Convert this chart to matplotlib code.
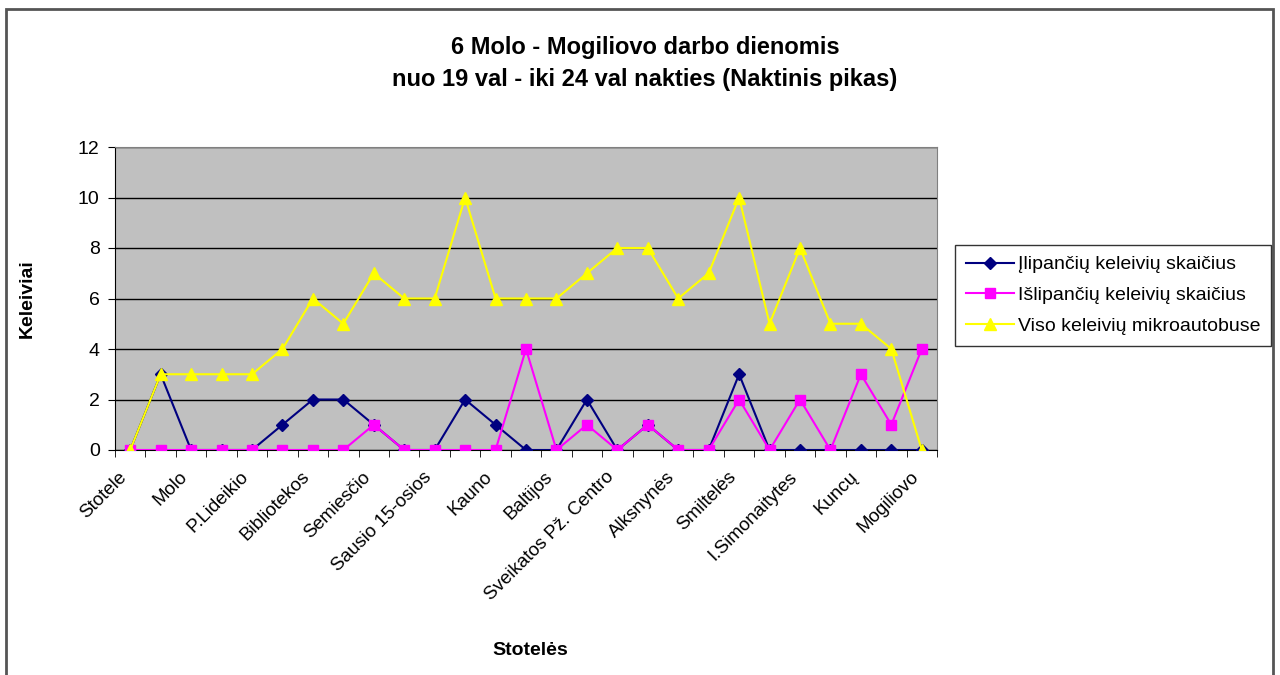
import matplotlib

matplotlib.use("Agg")
import matplotlib.pyplot as plt
from matplotlib.patches import Rectangle

plt.rcParams["font.family"] = ["Liberation Sans", "DejaVu Sans"]

# stops shown on the axis (every second category is labelled)
stop_labels = ["Stotele", "Molo", "P.Lideikio", "Bibliotekos", "Semiesčio",
               "Sausio 15-osios", "Kauno", "Baltijos", "Sveikatos Pž. Centro",
               "Alksnynės", "Smiltelės", "I.Simonaitytes", "Kuncų", "Mogiliovo"]
n_points = 27

ilipanciu = [0, 3, 0, 0, 0, 1, 2, 2, 1, 0, 0, 2, 1, 0,
             0, 2, 0, 1, 0, 0, 3, 0, 0, 0, 0, 0, 0]
islipanciu = [0, 0, 0, 0, 0, 0, 0, 0, 1, 0, 0, 0, 0, 4,
              0, 1, 0, 1, 0, 0, 2, 0, 2, 0, 3, 1, 4]
viso = [0, 3, 3, 3, 3, 4, 6, 5, 7, 6, 6, 10, 6, 6,
        6, 7, 8, 8, 6, 7, 10, 5, 8, 5, 5, 4, 0]

fig = plt.figure(figsize=(12.8, 6.75), dpi=100)
ax = fig.add_axes([115 / 1280, 1 - 450 / 675, 822 / 1280, 303 / 675])
ax.set_facecolor("#C0C0C0")

xs = list(range(n_points))
ax.plot(xs, ilipanciu, color="#000080", marker="D", ms=6, lw=1.5,
        label="Įlipančių keleivių skaičius", zorder=3)
ax.plot(xs, islipanciu, color="#FF00FF", marker="s", ms=7, lw=1.5,
        label="Išlipančių keleivių skaičius", zorder=3)
ax.plot(xs, viso, color="#FFFF00", marker="^", ms=9, lw=1.5,
        label="Viso keleivių mikroautobuse", zorder=3)

ax.set_xlim(-0.5, n_points - 0.5)
ax.set_ylim(0, 12)
ax.set_yticks(range(0, 13, 2))
ax.yaxis.grid(True, color="black", lw=1)
ax.set_axisbelow(True)

ax.set_xticks(range(0, n_points, 2))
ax.set_xticklabels(stop_labels, rotation=45, ha="right", va="bottom",
                   rotation_mode="anchor", fontsize=13.5)
ax.set_xticks([k - 0.5 for k in range(n_points + 1)], minor=True)
ax.tick_params(axis="x", which="major", length=0, pad=22)
ax.tick_params(axis="x", which="minor", length=5, direction="out", color="black")
ax.tick_params(axis="y", length=5, direction="out", labelsize=14, pad=6)

for side in ("top", "right"):
    ax.spines[side].set_color("#808080")
for side in ("left", "bottom"):
    ax.spines[side].set_color("black")

ax.set_ylabel("Keleiviai", fontsize=14, fontweight="bold")
ax.yaxis.set_label_coords(-0.097, 0.5)
ax.set_xlabel("Stotelės", fontsize=14, fontweight="bold")
ax.xaxis.set_label_coords(0.505, -0.635)

fig.text(0.504, 0.906, "6 Molo - Mogiliovo darbo dienomis\nnuo 19 val - iki 24 val nakties (Naktinis pikas)",
         ha="center", va="center", fontsize=17, fontweight="bold", linespacing=1.5)

leg = fig.legend(loc="upper left", bbox_to_anchor=(955 / 1280, 1 - 245 / 675),
                 fontsize=14, frameon=True, fancybox=False, edgecolor="black",
                 borderpad=0.55, labelspacing=0.68, handlelength=2.5,
                 handletextpad=0.2, borderaxespad=0)
leg.get_frame().set_linewidth(1)

fig.patches.append(Rectangle((6 / 1280, -0.01), 1267 / 1280, 1 - 9 / 675 + 0.01,
                             transform=fig.transFigure, fill=False,
                             edgecolor="#555555", lw=2))

fig.savefig("out.png", dpi=100)
